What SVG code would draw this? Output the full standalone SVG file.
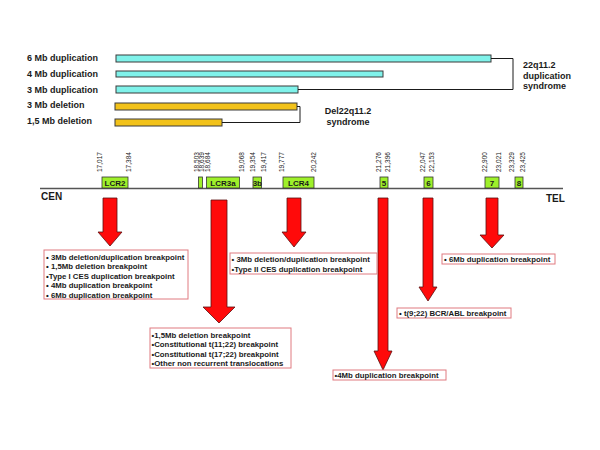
<svg xmlns="http://www.w3.org/2000/svg" width="600" height="450" viewBox="0 0 600 450">
<style>
.lbl{font-family:"Liberation Sans",Arial,sans-serif;font-weight:bold;font-size:9px;fill:#1a1a1a}
.dup{fill:#80f2ea;stroke:#3a3a3a;stroke-width:1}
.del{fill:#f2c21a;stroke:#3a3a3a;stroke-width:1}
.br{fill:none;stroke:#1a1a1a;stroke-width:1}
.chr{stroke:#555;stroke-width:1.5}
.lcr{fill:#9ef02a;stroke:#333;stroke-width:0.8}
.lcrt{font-family:"Liberation Sans",Arial,sans-serif;font-weight:bold;font-size:8px;fill:#1a1a1a;text-anchor:middle}
.num{font-family:"Liberation Sans",Arial,sans-serif;font-size:6.5px;fill:#222;text-anchor:start}
.end{font-family:"Liberation Sans",Arial,sans-serif;font-weight:bold;font-size:10px;fill:#1a1a1a}
.arr{fill:#ff0a0a;stroke:#5a1010;stroke-width:0.8}
.box{fill:#fff;stroke:#e07a80;stroke-width:1}
.bt{font-family:"Liberation Sans",Arial,sans-serif;font-weight:bold;font-size:7.8px;fill:#1a1a1a}
</style>

<g id="bars">
  <text class="lbl" x="27" y="61">6 Mb duplication</text>
  <text class="lbl" x="27" y="77">4 Mb duplication</text>
  <text class="lbl" x="27" y="93">3 Mb duplication</text>
  <text class="lbl" x="27" y="108">3 Mb deletion</text>
  <text class="lbl" x="27" y="124">1,5 Mb deletion</text>
  <rect class="dup" x="116" y="55" width="375" height="7"/>
  <rect class="dup" x="116" y="71" width="267" height="6"/>
  <rect class="dup" x="116" y="86" width="182" height="7"/>
  <rect class="del" x="115" y="103" width="182" height="7"/>
  <rect class="del" x="115" y="119" width="107" height="7"/>
  <path class="br" d="M491,58.5 H513 V89.5 H298"/>
  <path class="br" d="M297,106.5 H300 V122.5 H222"/>
  <text class="lbl" x="523" y="68">22q11.2</text>
  <text class="lbl" x="523" y="79">duplication</text>
  <text class="lbl" x="523" y="89">syndrome</text>
  <text class="lbl" x="348" y="114" text-anchor="middle">Del22q11.2</text>
  <text class="lbl" x="348" y="125" text-anchor="middle">syndrome</text>
</g>

<g id="chromosome">
  <line class="chr" x1="40" y1="188.5" x2="563" y2="188.5"/>
  <text class="end" x="41" y="200">CEN</text>
  <text class="end" x="546" y="202">TEL</text>
</g>

<g id="lcr-boxes">
  <g id="lcr2"><rect class="lcr" x="102" y="177" width="26" height="11"/><text class="lcrt" x="115" y="185.5">LCR2</text></g>
  <g id="lcr3-small"><rect class="lcr" x="198.5" y="177" width="4" height="11"/></g>
  <g id="lcr3a"><rect class="lcr" x="206.5" y="177" width="33" height="11"/><text class="lcrt" x="223" y="185.5">LCR3a</text></g>
  <g id="lcr3b"><rect class="lcr" x="253" y="177" width="8.5" height="11"/><text class="lcrt" x="257.3" y="185.5">3b</text></g>
  <g id="lcr4"><rect class="lcr" x="283" y="177" width="31" height="11"/><text class="lcrt" x="298.5" y="185.5">LCR4</text></g>
  <g id="lcr5"><rect class="lcr" x="380" y="177" width="8" height="11"/><text class="lcrt" x="384" y="185.5">5</text></g>
  <g id="lcr6"><rect class="lcr" x="424" y="177" width="9" height="11"/><text class="lcrt" x="428.5" y="185.5">6</text></g>
  <g id="lcr7"><rect class="lcr" x="485" y="177" width="14" height="11"/><text class="lcrt" x="492" y="185.5">7</text></g>
  <g id="lcr8"><rect class="lcr" x="515" y="177" width="8" height="11"/><text class="lcrt" x="519" y="185.5">8</text></g>
</g>

<g id="positions">
  <text class="num" transform="translate(101.5,172) rotate(-90)">17,017</text>
  <text class="num" transform="translate(130.8,172) rotate(-90)">17,384</text>
  <text class="num" transform="translate(199.2,172) rotate(-90)">18,503</text>
  <text class="num" transform="translate(204.2,172) rotate(-90)">18,639</text>
  <text class="num" transform="translate(209.8,172) rotate(-90)">18,684</text>
  <text class="num" transform="translate(244.2,172) rotate(-90)">19,068</text>
  <text class="num" transform="translate(254.8,172) rotate(-90)">19,354</text>
  <text class="num" transform="translate(265.8,172) rotate(-90)">19,417</text>
  <text class="num" transform="translate(284.2,172) rotate(-90)">19,777</text>
  <text class="num" transform="translate(315.8,172) rotate(-90)">20,242</text>
  <text class="num" transform="translate(380.8,172) rotate(-90)">21,276</text>
  <text class="num" transform="translate(389.8,172) rotate(-90)">21,396</text>
  <text class="num" transform="translate(425.2,172) rotate(-90)">22,047</text>
  <text class="num" transform="translate(434.2,172) rotate(-90)">22,153</text>
  <text class="num" transform="translate(486.8,172) rotate(-90)">22,900</text>
  <text class="num" transform="translate(500.8,172) rotate(-90)">23,021</text>
  <text class="num" transform="translate(514.2,172) rotate(-90)">23,329</text>
  <text class="num" transform="translate(525.2,172) rotate(-90)">23,425</text>
</g>

<g id="connectors">
  <polygon class="arr" points="103,198 117,198 117,232 122,232 110,246 98,232 103,232"/>
  <polygon class="arr" points="211,200 227,200 227,307 235,307 219,323 203,307 211,307"/>
  <polygon class="arr" points="287,198 301,198 301,232 306,232 294,247 282,232 287,232"/>
  <polygon class="arr" points="378,198 388,198 388,351 392,351 383,370 374,351 378,351"/>
  <polygon class="arr" points="423,198 433,198 433,287 437,287 428,301 419,287 423,287"/>
  <polygon class="arr" points="486,198 498,198 498,235 504,235 492,248 480,235 486,235"/>
</g>

<g id="box-lcr2">
  <rect class="box" x="44" y="250" width="144" height="49"/>
  <text class="bt" x="46" y="259.5">• 3Mb deletion/duplication breakpoint</text>
  <text class="bt" x="46" y="269">• 1,5Mb deletion breakpoint</text>
  <text class="bt" x="46" y="278.5">•Type I CES duplication breakpoint</text>
  <text class="bt" x="46" y="288">• 4Mb duplication breakpoint</text>
  <text class="bt" x="46" y="297.5">• 6Mb duplication breakpoint</text>
</g>

<g id="box-lcr3a">
  <rect class="box" x="150" y="328" width="141" height="40"/>
  <text class="bt" x="151.5" y="337.5">•1,5Mb deletion breakpoint</text>
  <text class="bt" x="151.5" y="347">•Constitutional t(11;22) breakpoint</text>
  <text class="bt" x="151.5" y="356.5">•Constitutional t(17;22) breakpoint</text>
  <text class="bt" x="151.5" y="366">•Other non recurrent  translocations</text>
</g>

<g id="box-lcr4">
  <rect class="box" x="230" y="253" width="147" height="21"/>
  <text class="bt" x="231.5" y="262">• 3Mb deletion/duplication breakpoint</text>
  <text class="bt" x="231.5" y="272">•Type II CES duplication breakpoint</text>
</g>

<g id="box-lcr7">
  <rect class="box" x="442" y="254" width="113" height="10"/>
  <text class="bt" x="444" y="262">• 6Mb duplication breakpoint</text>
</g>

<g id="box-lcr6">
  <rect class="box" x="397" y="308" width="114" height="10"/>
  <text class="bt" x="399" y="316">• t(9;22) BCR/ABL breakpoint</text>
</g>

<g id="box-lcr5">
  <rect class="box" x="333" y="370" width="113" height="10"/>
  <text class="bt" x="334.5" y="378">•4Mb duplication breakpoint</text>
</g>
</svg>
